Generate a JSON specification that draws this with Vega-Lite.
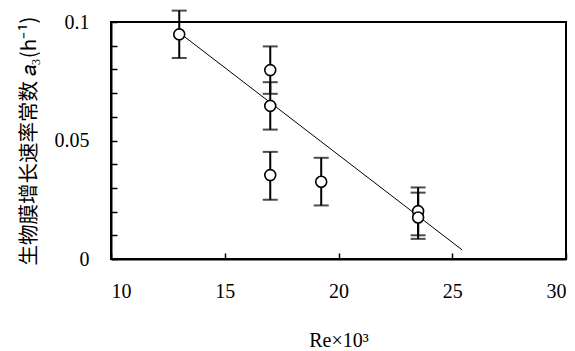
{
  "$schema": "https://vega.github.io/schema/vega-lite/v6.json",
  "width": 455,
  "height": 237,
  "autosize": {"type": "none"},
  "padding": {"left": 111, "top": 22, "right": 9, "bottom": 92},
  "background": "white",
  "config": {
    "view": {"stroke": "black", "strokeWidth": 2},
    "axis": {
      "domainColor": "black", "domainWidth": 2, "tickColor": "black", "tickWidth": 1.5,
      "labelFont": "Liberation Serif", "labelFontSize": 20, "labelColor": "black",
      "grid": false
    }
  },
  "datasets": {
    "pts": [
      {"re": 13.0, "a": 0.0948, "lo": 0.0848, "hi": 0.1048},
      {"re": 17.0, "a": 0.0797, "lo": 0.0697, "hi": 0.0897},
      {"re": 17.0, "a": 0.0646, "lo": 0.0546, "hi": 0.0746},
      {"re": 17.0, "a": 0.0354, "lo": 0.0250, "hi": 0.0452},
      {"re": 19.24, "a": 0.0326, "lo": 0.0226, "hi": 0.0427},
      {"re": 23.5, "a": 0.0202, "lo": 0.0100, "hi": 0.0302},
      {"re": 23.5, "a": 0.0175, "lo": 0.0085, "hi": 0.0280}
    ],
    "fit": [
      {"re": 13.0, "a": 0.0955},
      {"re": 25.44, "a": 0.0038}
    ]
  },
  "layer": [
    {
      "data": {"name": "fit"},
      "mark": {"type": "line", "color": "black", "strokeWidth": 1},
      "encoding": {
        "x": {"field": "re", "type": "quantitative",
          "scale": {"domain": [10, 30], "nice": false, "zero": false},
          "axis": {"values": [10, 15, 20, 25, 30], "tickCount": 5, "tickSize": -6, "labelPadding": 28, "labelOverlap": false,
            "labelFont": "Liberation Serif", "labelFontSize": 20,
            "title": "Re×10³", "titleFont": "Liberation Serif", "titleFontSize": 20, "titleFontWeight": "normal", "titleColor": "black", "titlePadding": 29}},
        "y": {"field": "a", "type": "quantitative",
          "scale": {"domain": [0, 0.1], "nice": false},
          "axis": {"values": [0, 0.01, 0.02, 0.03, 0.04, 0.05, 0.06, 0.07, 0.08, 0.09, 0.1], "tickCount": 11, "tickSize": -6, "labelPadding": 28, "labelOverlap": false,
            "labelExpr": "round(datum.value*100)==0 ? '0' : round(datum.value*100)==5 ? '0.05' : round(datum.value*100)==10 ? '0.1' : ''",
            "title": "生物膜增长速率常数 𝑎₃(h⁻¹)", "titleFont": "Noto Sans CJK SC", "titleFontSize": 20.5, "titleFontWeight": "normal", "titleColor": "black", "titlePadding": 15}}
      }
    },
    {
      "data": {"name": "pts"},
      "mark": {"type": "rule", "color": "black", "strokeWidth": 2},
      "encoding": {
        "x": {"field": "re", "type": "quantitative"},
        "y": {"field": "lo", "type": "quantitative"},
        "y2": {"field": "hi"}
      }
    },
    {
      "data": {"name": "pts"},
      "mark": {"type": "tick", "color": "black", "orient": "horizontal", "size": 15, "thickness": 2},
      "encoding": {
        "x": {"field": "re", "type": "quantitative"},
        "y": {"field": "lo", "type": "quantitative"}
      }
    },
    {
      "data": {"name": "pts"},
      "mark": {"type": "tick", "color": "black", "orient": "horizontal", "size": 15, "thickness": 2},
      "encoding": {
        "x": {"field": "re", "type": "quantitative"},
        "y": {"field": "hi", "type": "quantitative"}
      }
    },
    {
      "data": {"name": "pts"},
      "mark": {"type": "point", "shape": "circle", "size": 120, "filled": false, "fill": "white", "fillOpacity": 1, "stroke": "black", "strokeWidth": 1.6, "opacity": 1},
      "encoding": {
        "x": {"field": "re", "type": "quantitative"},
        "y": {"field": "a", "type": "quantitative"}
      }
    }
  ]
}
